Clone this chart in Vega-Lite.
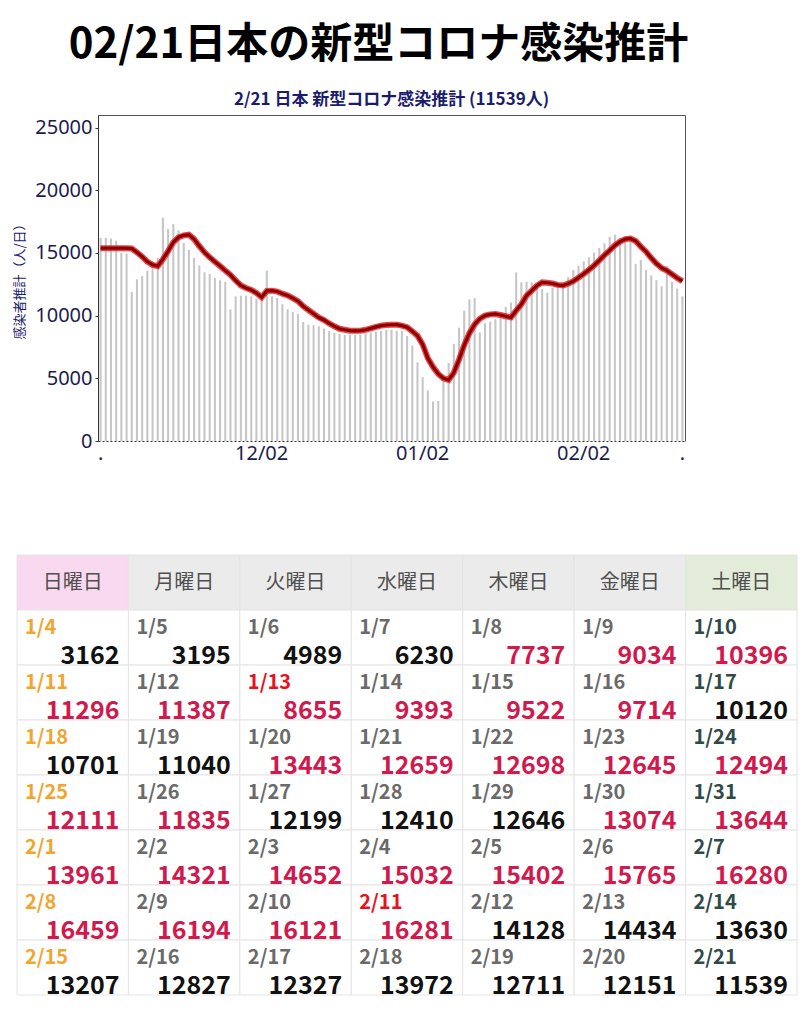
{
"$schema": "https://vega.github.io/schema/vega-lite/v6.json",
"background": "white",
"padding": {"top": 24, "left": 13, "right": 0, "bottom": 0},
"config": {"view": {"stroke": null}, "font": "Noto Sans CJK JP"},
"title": {"text": "02/21日本の新型コロナ感染推計", "anchor": "start", "fontSize": 42, "fontWeight": "bold", "color": "#000000", "font": "Noto Sans CJK JP", "dx": 55, "offset": 24},
"spacing": 91,
"datasets": {
"chart": [
{"d":"11/01","v":16200,"s":15380},{"d":"11/02","v":16200,"s":15380},{"d":"11/03","v":16150,"s":15380},{"d":"11/04","v":15970,"s":15380},{"d":"11/05","v":15000,"s":15380},{"d":"11/06","v":14950,"s":15380},{"d":"11/07","v":11870,"s":15350},{"d":"11/08","v":12900,"s":15050},{"d":"11/09","v":13150,"s":14700},{"d":"11/10","v":13600,"s":14300},
{"d":"11/11","v":14300,"s":14050},{"d":"11/12","v":14600,"s":13950},{"d":"11/13","v":17800,"s":14500},{"d":"11/14","v":16900,"s":15150},{"d":"11/15","v":17300,"s":15850},{"d":"11/16","v":16800,"s":16250},{"d":"11/17","v":15800,"s":16400},{"d":"11/18","v":15250,"s":16450},{"d":"11/19","v":14600,"s":16100},{"d":"11/20","v":14000,"s":15550},
{"d":"11/21","v":13460,"s":15050},{"d":"11/22","v":13330,"s":14650},{"d":"11/23","v":13000,"s":14300},{"d":"11/24","v":12820,"s":13950},{"d":"11/25","v":12700,"s":13600},{"d":"11/26","v":10500,"s":13250},{"d":"11/27","v":11540,"s":12800},{"d":"11/28","v":11600,"s":12400},{"d":"11/29","v":11600,"s":12200},{"d":"11/30","v":11540,"s":12050},
{"d":"12/01","v":11330,"s":11800},{"d":"12/02","v":11330,"s":11460},{"d":"12/03","v":13590,"s":11970},{"d":"12/04","v":11540,"s":11990},{"d":"12/05","v":11410,"s":11920},{"d":"12/06","v":10900,"s":11750},{"d":"12/07","v":10510,"s":11600},{"d":"12/08","v":10300,"s":11400},{"d":"12/09","v":10130,"s":11150},{"d":"12/10","v":9490,"s":10750},
{"d":"12/11","v":9280,"s":10450},{"d":"12/12","v":9230,"s":10150},{"d":"12/13","v":9150,"s":9850},{"d":"12/14","v":8970,"s":9650},{"d":"12/15","v":8770,"s":9380},{"d":"12/16","v":8640,"s":9150},{"d":"12/17","v":8540,"s":8950},{"d":"12/18","v":8460,"s":8870},{"d":"12/19","v":8460,"s":8800},{"d":"12/20","v":8460,"s":8790},
{"d":"12/21","v":8460,"s":8800},{"d":"12/22","v":8590,"s":8870},{"d":"12/23","v":8640,"s":8980},{"d":"12/24","v":8720,"s":9100},{"d":"12/25","v":8770,"s":9200},{"d":"12/26","v":8850,"s":9250},{"d":"12/27","v":8850,"s":9270},{"d":"12/28","v":8790,"s":9280},{"d":"12/29","v":8790,"s":9200},{"d":"12/30","v":8380,"s":9080},
{"d":"12/31","v":7620,"s":8750},{"d":"01/01","v":6280,"s":8400},{"d":"01/02","v":5080,"s":7700},{"d":"01/03","v":4030,"s":6600},{"d":"01/04","v":3162,"s":5900},{"d":"01/05","v":3195,"s":5350},{"d":"01/06","v":4989,"s":5000},{"d":"01/07","v":6230,"s":4870},{"d":"01/08","v":7737,"s":5450},{"d":"01/09","v":9034,"s":6500},
{"d":"01/10","v":10396,"s":7650},{"d":"01/11","v":11296,"s":8600},{"d":"01/12","v":11387,"s":9300},{"d":"01/13","v":8655,"s":9750},{"d":"01/14","v":9393,"s":10000},{"d":"01/15","v":9522,"s":10100},{"d":"01/16","v":9714,"s":10130},{"d":"01/17","v":10120,"s":10050},{"d":"01/18","v":10701,"s":9950},{"d":"01/19","v":11040,"s":9850},
{"d":"01/20","v":13443,"s":10400},{"d":"01/21","v":12659,"s":10900},{"d":"01/22","v":12698,"s":11600},{"d":"01/23","v":12645,"s":12000},{"d":"01/24","v":12494,"s":12400},{"d":"01/25","v":12111,"s":12650},{"d":"01/26","v":11835,"s":12620},{"d":"01/27","v":12199,"s":12560},{"d":"01/28","v":12410,"s":12450},{"d":"01/29","v":12646,"s":12400},
{"d":"01/30","v":13074,"s":12550},{"d":"01/31","v":13644,"s":12740},{"d":"02/01","v":13961,"s":13030},{"d":"02/02","v":14321,"s":13330},{"d":"02/03","v":14652,"s":13650},{"d":"02/04","v":15032,"s":14000},{"d":"02/05","v":15402,"s":14400},{"d":"02/06","v":15765,"s":14830},{"d":"02/07","v":16280,"s":15200},{"d":"02/08","v":16459,"s":15600},
{"d":"02/09","v":16194,"s":15900},{"d":"02/10","v":16121,"s":16100},{"d":"02/11","v":16281,"s":16150},{"d":"02/12","v":14128,"s":15950},{"d":"02/13","v":14434,"s":15500},{"d":"02/14","v":13630,"s":15100},{"d":"02/15","v":13207,"s":14600},{"d":"02/16","v":12827,"s":14150},{"d":"02/17","v":12327,"s":13800},{"d":"02/18","v":13972,"s":13600},
{"d":"02/19","v":12711,"s":13300},{"d":"02/20","v":12151,"s":13000},{"d":"02/21","v":11539,"s":12750}
],
"hdr": [
{"c":"日","r":"h","name":"日曜日","k":"hsun"},{"c":"月","r":"h","name":"月曜日","k":"hwk"},{"c":"火","r":"h","name":"火曜日","k":"hwk"},{"c":"水","r":"h","name":"水曜日","k":"hwk"},{"c":"木","r":"h","name":"木曜日","k":"hwk"},{"c":"金","r":"h","name":"金曜日","k":"hwk"},{"c":"土","r":"h","name":"土曜日","k":"hsat"}
],
"cells": [
{"r":"1","c":"日","dt":"1/4","n":3162,"dk":"sun","tr":"dn"},{"r":"1","c":"月","dt":"1/5","n":3195,"dk":"wk","tr":"dn"},{"r":"1","c":"火","dt":"1/6","n":4989,"dk":"wk","tr":"dn"},{"r":"1","c":"水","dt":"1/7","n":6230,"dk":"wk","tr":"dn"},{"r":"1","c":"木","dt":"1/8","n":7737,"dk":"wk","tr":"up"},{"r":"1","c":"金","dt":"1/9","n":9034,"dk":"wk","tr":"up"},{"r":"1","c":"土","dt":"1/10","n":10396,"dk":"sat","tr":"up"},
{"r":"2","c":"日","dt":"1/11","n":11296,"dk":"sun","tr":"up"},{"r":"2","c":"月","dt":"1/12","n":11387,"dk":"wk","tr":"up"},{"r":"2","c":"火","dt":"1/13","n":8655,"dk":"hol","tr":"up"},{"r":"2","c":"水","dt":"1/14","n":9393,"dk":"wk","tr":"up"},{"r":"2","c":"木","dt":"1/15","n":9522,"dk":"wk","tr":"up"},{"r":"2","c":"金","dt":"1/16","n":9714,"dk":"wk","tr":"up"},{"r":"2","c":"土","dt":"1/17","n":10120,"dk":"sat","tr":"dn"},
{"r":"3","c":"日","dt":"1/18","n":10701,"dk":"sun","tr":"dn"},{"r":"3","c":"月","dt":"1/19","n":11040,"dk":"wk","tr":"dn"},{"r":"3","c":"火","dt":"1/20","n":13443,"dk":"wk","tr":"up"},{"r":"3","c":"水","dt":"1/21","n":12659,"dk":"wk","tr":"up"},{"r":"3","c":"木","dt":"1/22","n":12698,"dk":"wk","tr":"up"},{"r":"3","c":"金","dt":"1/23","n":12645,"dk":"wk","tr":"up"},{"r":"3","c":"土","dt":"1/24","n":12494,"dk":"sat","tr":"up"},
{"r":"4","c":"日","dt":"1/25","n":12111,"dk":"sun","tr":"up"},{"r":"4","c":"月","dt":"1/26","n":11835,"dk":"wk","tr":"up"},{"r":"4","c":"火","dt":"1/27","n":12199,"dk":"wk","tr":"dn"},{"r":"4","c":"水","dt":"1/28","n":12410,"dk":"wk","tr":"dn"},{"r":"4","c":"木","dt":"1/29","n":12646,"dk":"wk","tr":"dn"},{"r":"4","c":"金","dt":"1/30","n":13074,"dk":"wk","tr":"up"},{"r":"4","c":"土","dt":"1/31","n":13644,"dk":"sat","tr":"up"},
{"r":"5","c":"日","dt":"2/1","n":13961,"dk":"sun","tr":"up"},{"r":"5","c":"月","dt":"2/2","n":14321,"dk":"wk","tr":"up"},{"r":"5","c":"火","dt":"2/3","n":14652,"dk":"wk","tr":"up"},{"r":"5","c":"水","dt":"2/4","n":15032,"dk":"wk","tr":"up"},{"r":"5","c":"木","dt":"2/5","n":15402,"dk":"wk","tr":"up"},{"r":"5","c":"金","dt":"2/6","n":15765,"dk":"wk","tr":"up"},{"r":"5","c":"土","dt":"2/7","n":16280,"dk":"sat","tr":"up"},
{"r":"6","c":"日","dt":"2/8","n":16459,"dk":"sun","tr":"up"},{"r":"6","c":"月","dt":"2/9","n":16194,"dk":"wk","tr":"up"},{"r":"6","c":"火","dt":"2/10","n":16121,"dk":"wk","tr":"up"},{"r":"6","c":"水","dt":"2/11","n":16281,"dk":"hol","tr":"up"},{"r":"6","c":"木","dt":"2/12","n":14128,"dk":"wk","tr":"dn"},{"r":"6","c":"金","dt":"2/13","n":14434,"dk":"wk","tr":"dn"},{"r":"6","c":"土","dt":"2/14","n":13630,"dk":"sat","tr":"dn"},
{"r":"7","c":"日","dt":"2/15","n":13207,"dk":"sun","tr":"dn"},{"r":"7","c":"月","dt":"2/16","n":12827,"dk":"wk","tr":"dn"},{"r":"7","c":"火","dt":"2/17","n":12327,"dk":"wk","tr":"dn"},{"r":"7","c":"水","dt":"2/18","n":13972,"dk":"wk","tr":"dn"},{"r":"7","c":"木","dt":"2/19","n":12711,"dk":"wk","tr":"dn"},{"r":"7","c":"金","dt":"2/20","n":12151,"dk":"wk","tr":"dn"},{"r":"7","c":"土","dt":"2/21","n":11539,"dk":"sat","tr":"dn"}
]
},
"vconcat": [
{
"width": 587, "height": 326,
"title": {"text": "2/21 日本 新型コロナ感染推計 (11539人)", "fontSize": 17, "fontWeight": "bold", "color": "#1c1c6c", "offset": 6, "anchor": "middle"},
"data": {"name": "chart"},
"layer": [
{"mark": {"type": "bar", "color": "#c6c6c6"},
 "encoding": {
  "x": {"field": "d", "type": "ordinal", "sort": null, "scale": {"paddingInner": 0.6, "paddingOuter": 0.3},
        "axis": {"title": null, "values": ["11/01","12/02","01/02","02/02","02/21"], "labelExpr": "datum.value == '11/01' || datum.value == '02/21' ? '.' : datum.value", "labelAngle": 0, "ticks": false, "labelFontSize": 20, "labelFont": "Noto Sans", "labelColor": "#1c1c50", "domainDash": [2,2], "domainColor": "#333333", "labelPadding": 2}},
  "y": {"field": "v", "type": "quantitative", "scale": {"domain": [0, 25000]},
        "axis": {"title": "感染者推計（人/日）", "titleFontSize": 13, "titleFontWeight": "normal", "titleColor": "#1c1c6c", "titlePadding": 8, "values": [0,5000,10000,15000,20000,25000], "format": "d", "labelFontSize": 20, "labelFont": "Noto Sans", "labelColor": "#1c1c50", "grid": false, "tickSize": 3, "tickColor": "#333333", "domainColor": "#333333", "labelPadding": 3}}
 }},
{"mark": {"type": "line", "color": "#e3262a", "strokeWidth": 6, "opacity": 0.85},
 "encoding": {
  "x": {"field": "d", "type": "ordinal", "sort": null, "axis": {"orient": "top", "labels": false, "ticks": false, "title": null, "domainColor": "#555555"}},
  "y": {"field": "s", "type": "quantitative", "axis": {"orient": "right", "labels": false, "ticks": false, "title": null, "grid": false, "domainColor": "#555555"}}
 }},
{"mark": {"type": "line", "color": "#8e0000", "strokeWidth": 3.2},
 "encoding": {
  "x": {"field": "d", "type": "ordinal", "sort": null, "axis": null},
  "y": {"field": "s", "type": "quantitative", "axis": null}
 }}
],
"resolve": {"axis": {"x": "independent", "y": "independent"}}
},
{
"width": 699, "height": 440,
"encoding": {
 "x": {"field": "c", "type": "ordinal", "sort": null, "scale": {"domain": ["日","月","火","水","木","金","土"], "range": [-81, 699], "paddingInner": 0, "paddingOuter": 0}, "axis": null},
 "y": {"field": "r", "type": "ordinal", "sort": null, "scale": {"domain": ["h","1","2","3","4","5","6","7"], "paddingInner": 0, "paddingOuter": 0}, "axis": null}
},
"layer": [
{"data": {"name": "hdr"}, "mark": {"type": "rect", "stroke": "#e4e4e4", "strokeWidth": 1},
 "encoding": {"color": {"field": "k", "type": "nominal", "legend": null, "scale": {"domain": ["hsun","hwk","hsat","sun","wk","sat","hol","up","dn"], "range": ["#f9d9ef","#ebebeb","#e2ecd8","#f2a52c","#6a6a6a","#2f4a48","#e8121c","#d01a4e","#111111"]}}}},
{"data": {"name": "hdr"}, "mark": {"type": "text", "fontSize": 20, "color": "#505050"},
 "encoding": {"text": {"field": "name", "type": "nominal"}}},
{"data": {"name": "cells"}, "mark": {"type": "rect", "fill": "#ffffff", "stroke": "#e4e4e4", "strokeWidth": 1}},
{"data": {"name": "cells"}, "mark": {"type": "text", "align": "left", "baseline": "middle", "dx": 8, "fontSize": 20, "fontWeight": 600},
 "encoding": {
  "x": {"field": "c", "type": "ordinal", "sort": null, "bandPosition": 0},
  "y": {"field": "r", "type": "ordinal", "sort": null, "bandPosition": 0.33},
  "text": {"field": "dt", "type": "nominal"},
  "color": {"field": "dk", "type": "nominal", "legend": null}}},
{"data": {"name": "cells"}, "mark": {"type": "text", "align": "right", "baseline": "middle", "dx": -9, "fontSize": 25, "fontWeight": "bold"},
 "encoding": {
  "x": {"field": "c", "type": "ordinal", "sort": null, "bandPosition": 1},
  "y": {"field": "r", "type": "ordinal", "sort": null, "bandPosition": 0.84},
  "text": {"field": "n", "type": "quantitative", "format": "d"},
  "color": {"field": "tr", "type": "nominal", "legend": null}}}
]
}
]
}
